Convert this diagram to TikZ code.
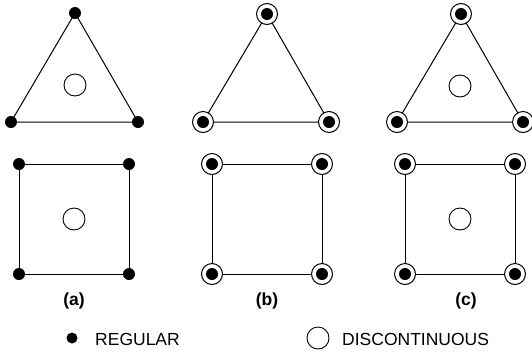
\documentclass[tikz,border=0pt]{standalone}
\usepackage{fontspec}
\setmainfont{Liberation Sans}
\begin{document}
\begin{tikzpicture}[x=1pt,y=-1pt,
  edge/.style={line width=1pt},
  reg/.style={circle,fill=black,inner sep=0pt,minimum size=12pt},
  disc/.style={circle,draw=black,fill=white,line width=1pt,inner sep=0pt,minimum size=21pt},
  hole/.style={circle,draw=black,fill=white,line width=0.9pt,inner sep=0pt,minimum size=22pt},
  lab/.style={font=\bfseries\fontsize{17.5}{20}\selectfont},
  leg/.style={font=\fontsize{17.5}{20}\selectfont,anchor=west,inner sep=0pt}]
\useasboundingbox (0,0) rectangle (532,354);
% ---------- panel (a)
\draw[edge] (75,13) -- (11,122) -- (138,122) -- cycle;
\node[reg] (a1) at (75,13) {};
\node[reg] (a2) at (11,122) {};
\node[reg] (a3) at (138,122) {};
\node[hole] (ah1) at (75,85) {};
\draw[edge] (19,164) rectangle (129,274);
\node[reg] (a4) at (19,164) {};
\node[reg] (a5) at (129,164) {};
\node[reg] (a6) at (19,274) {};
\node[reg] (a7) at (129,274) {};
\node[hole] (ah2) at (74,219) {};
\node[lab] (la) at (74,301) {(a)};
% ---------- panel (b)
\draw[edge] (267,14) -- (203,122) -- (329,122) -- cycle;
\foreach \n/\p in {b1/{267,14},b2/{203,122},b3/{329,122}}{
  \node[disc] (\n) at (\p) {};
  \node[reg] (\n i) at (\p) {};
}
\draw[edge] (212,164) rectangle (322,274);
\foreach \n/\p in {b4/{212,164},b5/{322,164},b6/{212,274},b7/{322,274}}{
  \node[disc] (\n) at (\p) {};
  \node[reg] (\n i) at (\p) {};
}
\node[lab] (lb) at (267,301) {(b)};
% ---------- panel (c)
\draw[edge] (461,14) -- (397,122) -- (523,122) -- cycle;
\foreach \n/\p in {c1/{461,14},c2/{397,122},c3/{523,122}}{
  \node[disc] (\n) at (\p) {};
  \node[reg] (\n i) at (\p) {};
}
\node[hole] (ch1) at (460,86) {};
\draw[edge] (405,164) rectangle (515,274);
\foreach \n/\p in {c4/{405,164},c5/{515,164},c6/{405,274},c7/{515,274}}{
  \node[disc] (\n) at (\p) {};
  \node[reg] (\n i) at (\p) {};
}
\node[hole] (ch2) at (460,219) {};
\node[lab] (lc) at (466,301) {(c)};
% ---------- legend
\node[reg,minimum size=11pt] (lg1) at (72,338) {};
\node[leg] (lt1) at (95,339) {REGULAR};
\node[hole,minimum size=22pt] (lg2) at (318,338) {};
\node[leg] (lt2) at (342,339) {DISCONTINUOUS};
\end{tikzpicture}
\end{document}
